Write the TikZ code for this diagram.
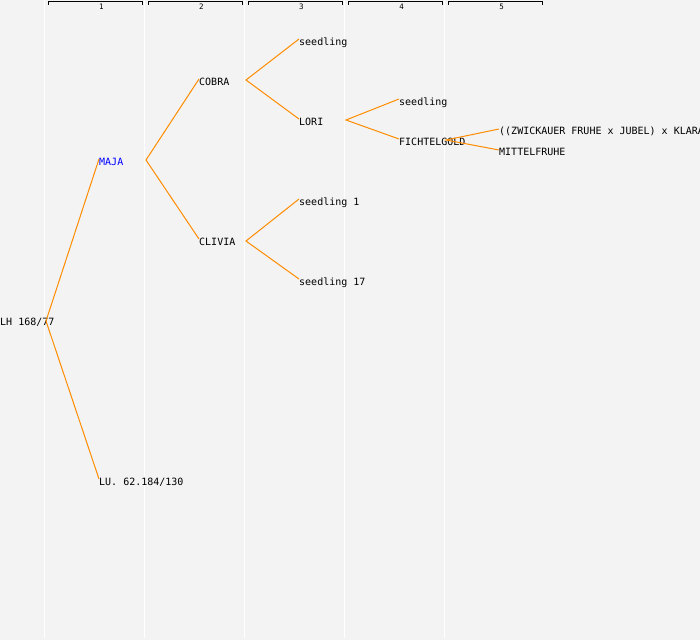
\documentclass[tikz,border=0pt]{standalone}
\usepackage{fontspec}
\setmonofont{DejaVu Sans Mono}
\usetikzlibrary{positioning}

\definecolor{bgcol}{RGB}{243,243,243}
\definecolor{edgecol}{RGB}{255,140,0}
\definecolor{selcol}{RGB}{0,0,255}

\tikzset{
  plant/.style={anchor=west, inner sep=0pt, text height=7pt, text depth=2pt,
    font=\ttfamily\fontsize{10}{10}\selectfont},
  gen/.style={inner sep=0pt, font=\ttfamily\fontsize{7.5}{7.5}\selectfont},
  edge/.style={draw=edgecol, line width=1pt},
}

\begin{document}
\begin{tikzpicture}[x=1pt,y=-1pt]
\fill[bgcol] (0,0) rectangle (700,640);
\useasboundingbox (0,0) rectangle (700,640);
\clip (0,0) rectangle (700,640);

% generation columns
\foreach \i in {1,...,5} {
  \draw[white, line width=1pt] (100*\i-55.5,0) -- (100*\i-55.5,638);
  \draw[black, line width=0.8pt] (100*\i-51.5,4.5) -- (100*\i-51.5,1.5) -- (100*\i+42.5,1.5) -- (100*\i+42.5,4.5);
  \node[gen] at (100*\i+1.5,6.5) {\i};
}

% plants
\node[plant] (lh) at (0,323) {LH 168/77};
\node[plant, text=selcol] (maja) at (99,163) {MAJA};
\node[plant] (lu) at (99,483) {LU. 62.184/130};
\node[plant] (cobra) at (199,83) {COBRA};
\node[plant] (clivia) at (199,243) {CLIVIA};
\node[plant] (sdl) at (299,43) {seedling};
\node[plant] (lori) at (299,123) {LORI};
\node[plant] (sdla) at (299,203) {seedling 1};
\node[plant] (sdlb) at (299,283) {seedling 17};
\node[plant] (sdlc) at (399,103) {seedling};
\node[plant] (fichtel) at (399,143) {FICHTELGOLD};
\node[plant] (zwick) at (499,132) {((ZWICKAUER FRUHE x JUBEL) x KLARA)};
\node[plant] (mittel) at (499,153) {MITTELFRUHE};

% fork points
\coordinate (lh-f) at (46,321);
\coordinate (maja-f) at (146,160);
\coordinate (cobra-f) at (246,80);
\coordinate (clivia-f) at (246,241);
\coordinate (lori-f) at (346,120);
\coordinate (fichtel-f) at (446,140);

% pedigree lines
\draw[edge] ([yshift=4pt]maja.west) -- (lh-f) -- ([yshift=4pt]lu.west);
\draw[edge] ([yshift=4pt]cobra.west) -- (maja-f) -- ([yshift=4pt]clivia.west);
\draw[edge] ([yshift=4pt]sdl.west) -- (cobra-f) -- ([yshift=4pt]lori.west);
\draw[edge] ([yshift=4pt]sdla.west) -- (clivia-f) -- ([yshift=4pt]sdlb.west);
\draw[edge] ([yshift=4pt]sdlc.west) -- (lori-f) -- ([yshift=4pt]fichtel.west);
\draw[edge] ([yshift=3pt]zwick.west) -- (fichtel-f) -- ([yshift=3pt]mittel.west);
\end{tikzpicture}
\end{document}
